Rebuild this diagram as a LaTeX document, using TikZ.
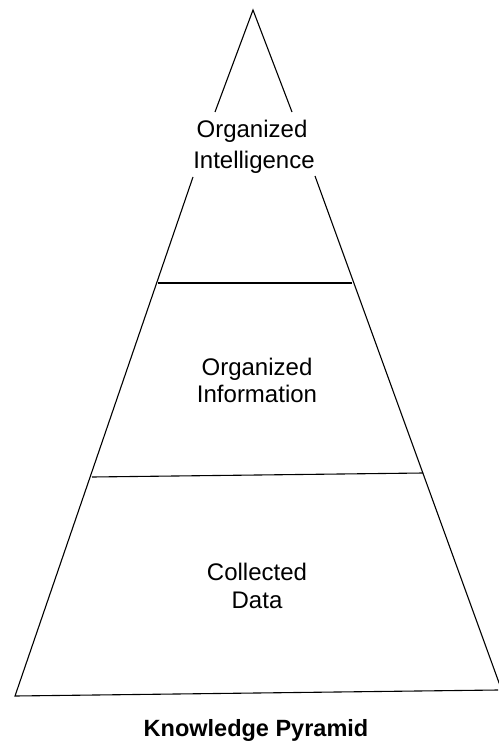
\documentclass[tikz,border=0pt]{standalone}
\usepackage{fontspec}
\setmainfont{Liberation Sans}
\begin{document}
\begin{tikzpicture}[x=1pt,y=-1pt,
  edge/.style={line width=1.1pt,line join=miter},
  lbl/.style={anchor=base,inner sep=0pt,font=\fontsize{24}{28}\selectfont},
  ttl/.style={anchor=base,inner sep=0pt,font=\bfseries\fontsize{23.5}{28}\selectfont}]
\useasboundingbox (0,0) rectangle (498,746);
\coordinate (apex) at (253,10);
\coordinate (lgap1) at (215,112);
\coordinate (lgap2) at (193,177);
\coordinate (rgap1) at (292,112);
\coordinate (rgap2) at (315,176);
\coordinate (bl) at (15,696);
\coordinate (br) at (502,691);
\coordinate (brend) at (498,690);
\coordinate (a1) at (158,283);
\coordinate (b1) at (352,283);
\coordinate (a2) at (92,477);
\coordinate (b2) at (423,473);
\draw[edge] (lgap1) -- (apex) -- (rgap1);
\draw[edge] (lgap2) -- (bl) -- (brend);
\draw[edge] (rgap2) -- (br);
\draw[edge] (a1) -- (b1);
\draw[edge] (a2) -- (b2);
\node[lbl] (t1) at (252,138) {Organized};
\node[lbl] (t2) at (254,168) {Intelligence};
\node[lbl] (m1) at (257,375) {Organized};
\node[lbl] (m2) at (257,402) {Information};
\node[lbl] (c1) at (257,580) {Collected};
\node[lbl] (c2) at (257,608) {Data};
\node[ttl] (title) at (256,736) {Knowledge Pyramid};
\end{tikzpicture}
\end{document}
